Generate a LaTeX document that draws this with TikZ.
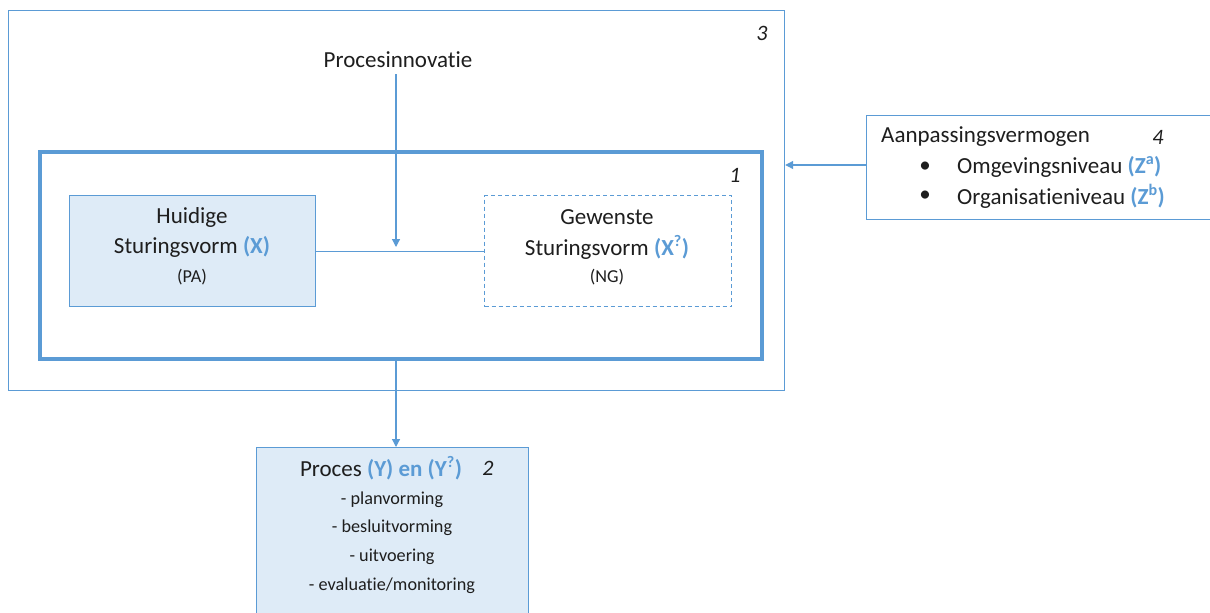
\documentclass[tikz,border=0pt]{standalone}
\usepackage{fontspec}
\setmainfont{Carlito}[RawFeature={-liga;-clig;-calt}]
\usetikzlibrary{arrows.meta}
\definecolor{bl}{RGB}{91,155,213}
\definecolor{fillb}{RGB}{222,235,247}
\definecolor{txt}{RGB}{30,30,30}
\newcommand{\lab}[1]{\textcolor{bl}{\textbf{#1}}}
\tikzset{
  mainf/.style={font=\fontsize{23}{27}\selectfont, text=txt, inner sep=0},
  smallf/.style={font=\fontsize{18.2}{22}\selectfont, text=txt, inner sep=0},
  numf/.style={font=\fontsize{22}{26}\selectfont\itshape, text=txt, inner sep=0},
  boxthin/.style={draw=bl, line width=1.2pt, anchor=north west, inner sep=0},
  conn/.style={draw=bl, line width=1.2pt},
  arr/.style={conn, -{Triangle[length=8pt,width=8pt]}}
}
\begin{document}
\begin{tikzpicture}[x=1pt,y=-1pt]
\clip (0,0) rectangle (1210,613);
\fill[white] (0,0) rectangle (1210,613);

% box 3
\node[boxthin, minimum width=776, minimum height=380] (b3) at (8,10) {};
\node[numf] (n3) at (762,33) {3};
\node[mainf] (proc) at (398,60) {Procesinnovatie};

% box 1
\node[draw=bl, line width=3.5pt, anchor=north west, inner sep=0, minimum width=722, minimum height=207] (b1) at (38,150) {};
\node[numf] (n1) at (735,175) {1};

% current / desired
\node[boxthin, fill=fillb, minimum width=246, minimum height=111] (hu) at (69,195) {};
\node[boxthin, dash pattern=on 4pt off 3pt, minimum width=247, minimum height=111] (ge) at (484,195) {};

\node[mainf] (hu1) at (192,217) {Huidige};
\node[mainf] (hu2) at (192,247) {Sturingsvorm \lab{(X)}};
\node[smallf] (hu3) at (192,277) {(PA)};

\node[mainf] (ge1) at (607,217) {Gewenste};
\node[mainf] (ge2) at (607,247) {Sturingsvorm \lab{(X\textsuperscript{?})}};
\node[smallf] (ge3) at (607,277) {(NG)};

\draw[conn] (hu.east) -- (ge.west);
\coordinate (m) at (396,247);
\draw[arr] (proc.south -| m) ++(0,6) -- (m);

% box 2
\node[boxthin, fill=fillb, minimum width=272, minimum height=200] (b2) at (256,447) {};
\node[mainf] (p1) at (381,468) {Proces \lab{(Y) en (Y\textsuperscript{?})}};
\node[numf] (n2) at (488,468) {2};
\node[smallf] (p2) at (392,500) {- planvorming};
\node[smallf] (p3) at (392,528) {- besluitvorming};
\node[smallf] (p4) at (392,557) {- uitvoering};
\node[smallf] (p5) at (392,586) {- evaluatie/monitoring};

\draw[arr] (b1.south -| m) -- (b2.north -| m);

% box 4
\node[boxthin, minimum width=360, minimum height=104] (b4) at (866,115) {};
\node[mainf, anchor=west] (a0) at (881,137) {Aanpassingsvermogen};
\node[numf] (n4) at (1158,137) {4};
\node[mainf] (bu1) at (925,167) {•};
\node[mainf] (bu2) at (925,196) {•};
\node[mainf, anchor=west] (a1) at (957,167) {Omgevingsniveau \lab{(Z\textsuperscript{a})}};
\node[mainf, anchor=west] (a2) at (957,196) {Organisatieniveau \lab{(Z\textsuperscript{b})}};

\draw[arr] (b4.west |- 0,165) -- (b3.east |- 0,165);
\end{tikzpicture}
\end{document}
